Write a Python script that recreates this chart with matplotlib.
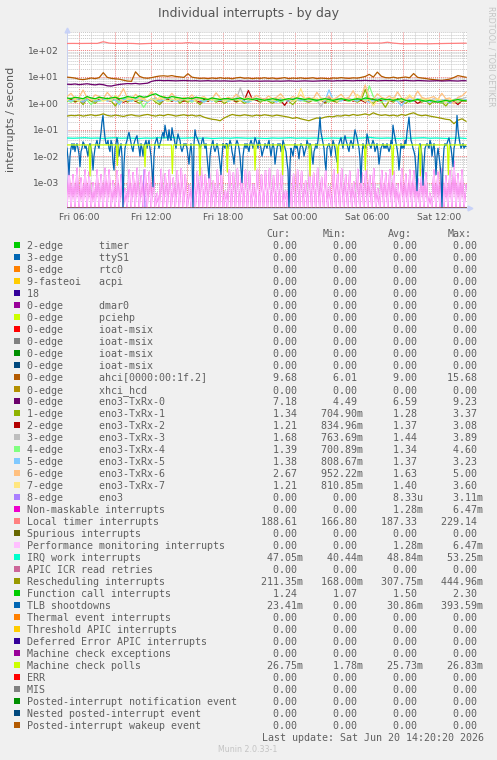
import numpy as np
import pandas as pd
import matplotlib
matplotlib.use('Agg')
import matplotlib.pyplot as plt
import matplotlib.dates as mdates
from matplotlib.patches import Rectangle
from matplotlib.ticker import FuncFormatter, LogLocator

W, H = 497, 760
plt.rcParams['font.family'] = 'DejaVu Sans'

# time range of the graph
start = pd.Timestamp('2026-06-19 05:00')
end = pd.Timestamp('2026-06-20 14:20')
data_end = pd.Timestamp('2026-06-20 14:15')

# legend rows (name, irq name)
labels = [
    ("2-edge", "timer"), ("3-edge", "ttyS1"), ("8-edge", "rtc0"), ("9-fasteoi", "acpi"),
    ("18", ""), ("0-edge", "dmar0"), ("0-edge", "pciehp"), ("0-edge", "ioat-msix"),
    ("0-edge", "ioat-msix"), ("0-edge", "ioat-msix"), ("0-edge", "ioat-msix"),
    ("0-edge", "ahci[0000:00:1f.2]"), ("0-edge", "xhci_hcd"), ("0-edge", "eno3-TxRx-0"),
    ("1-edge", "eno3-TxRx-1"), ("2-edge", "eno3-TxRx-2"), ("3-edge", "eno3-TxRx-3"),
    ("4-edge", "eno3-TxRx-4"), ("5-edge", "eno3-TxRx-5"), ("6-edge", "eno3-TxRx-6"),
    ("7-edge", "eno3-TxRx-7"), ("8-edge", "eno3"),
    ("Non-maskable interrupts", ""), ("Local timer interrupts", ""), ("Spurious interrupts", ""),
    ("Performance monitoring interrupts", ""), ("IRQ work interrupts", ""),
    ("APIC ICR read retries", ""), ("Rescheduling interrupts", ""),
    ("Function call interrupts", ""), ("TLB shootdowns", ""), ("Thermal event interrupts", ""),
    ("Threshold APIC interrupts", ""), ("Deferred Error APIC interrupts", ""),
    ("Machine check exceptions", ""), ("Machine check polls", ""), ("ERR", ""), ("MIS", ""),
    ("Posted-interrupt notification event", ""), ("Nested posted-interrupt event", ""),
    ("Posted-interrupt wakeup event", ""),
]
colors = [
    '#00CC00', '#0066B3', '#FF8000', '#FFCC00', '#330099', '#990099', '#CCFF00', '#FF0000',
    '#808080', '#008F00', '#00487D', '#B35A00', '#B38F00', '#6B006B', '#8FB300', '#B30000',
    '#BEBEBE', '#80FF80', '#80C9FF', '#FFC080', '#FFE680', '#AA80FF', '#EE00CC', '#FF8080',
    '#666600', '#FFBFFF', '#00FFCC', '#CC6699', '#999900', '#00CC00', '#0066B3', '#FF8000',
    '#FFCC00', '#330099', '#990099', '#CCFF00', '#FF0000', '#808080', '#008F00', '#00487D',
    '#B35A00',
]
z = "0.00"
cur = [z]*11 + ["9.68", z, "7.18", "1.34", "1.21", "1.68", "1.39", "1.38", "2.67", "1.21", z, z,
       "188.61", z, z, "47.05m", z, "211.35m", "1.24", "23.41m", z, z, z, z, "26.75m"] + [z]*5
mins = [z]*11 + ["6.01", z, "4.49", "704.90m", "834.96m", "763.69m", "700.89m", "808.67m",
        "952.22m", "810.85m", z, z, "166.80", z, z, "40.44m", z, "168.00m", "1.07", z,
        z, z, z, z, "1.78m"] + [z]*5
avgs = [z]*11 + ["9.00", z, "6.59", "1.28", "1.37", "1.44", "1.34", "1.37", "1.63", "1.40",
        "8.33u", "1.28m", "187.33", z, "1.28m", "48.84m", z, "307.75m", "1.50", "30.86m",
        z, z, z, z, "25.73m"] + [z]*5
maxs = [z]*11 + ["15.68", z, "9.23", "3.37", "3.08", "3.89", "4.60", "3.23", "5.00", "3.60",
        "3.11m", "6.47m", "229.14", z, "6.47m", "53.25m", z, "444.96m", "2.30", "393.59m",
        z, z, z, z, "26.83m"] + [z]*5

# series values (evenly spaced over the day)
loc_vals = [184, 185, 184, 185, 186, 185, 214, 190, 186, 185, 186, 184, 178, 182, 186,
            187, 188, 189, 190, 189, 198, 191, 190, 189, 190, 191, 190, 190, 189, 190, 189,
            190, 191, 190, 190, 189, 190, 189, 190, 188, 189, 190, 189, 190, 189, 190, 196,
            192, 195, 190, 189, 190, 191, 205, 190, 182, 178, 180, 181, 180, 179, 182, 183,
            185, 186, 188, 189]
ahci_vals = [9.8, 9.5, 9.0, 8.2, 7.9, 8.4, 9.1, 8.6, 9.4, 14.5,
             9.6, 8.8, 8.5, 8.2, 7.5, 7.0, 6.8, 15.6, 10.5, 9.2,
             8.9, 9.4, 10.2, 10.8, 11.0, 10.6, 11.2, 10.4, 10.0, 9.6,
             13.2, 9.8, 9.2, 8.8, 9.0, 8.6, 9.1, 8.7, 9.3, 8.8,
             9.0, 8.5, 9.2, 9.6, 8.9, 9.1, 8.6, 9.0, 8.8, 9.3,
             8.7, 9.1, 8.5, 8.9, 9.4, 8.6, 9.0, 8.8, 9.2, 8.7,
             8.9, 9.3, 8.6, 9.0, 8.8, 8.5, 9.1, 8.9, 9.4, 9.0,
             8.8, 9.2, 9.0, 9.6, 10.4, 12.5, 9.8, 15.2, 10.6, 9.4,
             9.2, 9.8, 9.0, 9.5, 9.9, 9.3, 13.4, 9.6, 9.1, 8.7,
             8.2, 7.9, 7.6, 7.4, 7.8, 8.3, 9.5, 11.2, 10.4, 9.7]
txrx0_vals = [5.3, 5.2, 5.4, 5.1, 5.3, 5.5, 5.2, 5.0, 5.3, 5.1,
              4.6, 4.5, 4.9, 5.2, 5.4, 5.6, 5.5, 5.7, 5.4, 5.6,
              5.8, 6.8, 7.3, 7.4, 7.2, 7.3, 7.2, 7.1, 7.2, 7.3,
              7.2, 7.1, 7.2, 7.0, 7.1, 7.2, 7.0, 7.1, 7.0, 7.1,
              7.0, 6.9, 7.0, 7.1, 6.9, 7.0, 6.9, 7.0, 6.9, 7.0,
              7.0, 6.9, 7.0, 6.9, 7.0, 7.1, 7.0, 6.9, 7.0, 7.1,
              7.0, 6.9, 7.0, 7.1, 7.2, 7.1, 7.0, 7.2, 7.1, 7.3,
              7.2, 7.1, 7.3, 7.2, 7.4, 7.2, 7.3, 7.1, 7.2, 7.3,
              7.2, 7.3, 7.1, 7.2, 7.4, 7.2, 7.1, 7.3, 7.2, 7.1,
              7.0, 7.1, 7.2, 7.0, 7.1, 7.2, 7.1, 7.0, 7.2, 7.18]
txrx1_vals = [1.2, 1.4, 1.1, 1.3, 0.9, 1.5, 1.2, 1.0, 1.4, 1.3,
              1.6, 1.2, 0.8, 1.3, 1.5, 1.1, 1.4, 1.2, 1.0, 1.3,
              1.2, 1.5, 1.1, 0.9, 1.3, 1.4, 1.2, 1.6, 1.0, 1.3,
              1.1, 1.4, 1.2, 0.9, 1.3, 1.2, 1.5, 1.1, 1.3, 1.0,
              1.2, 1.4, 1.1, 1.3, 1.0, 1.2, 1.5, 1.3, 1.1, 1.4,
              1.2, 1.0, 1.3, 1.1, 1.4, 1.2, 0.9, 1.3, 1.5, 1.2,
              1.1, 1.3, 1.2, 1.4, 1.0, 1.3, 1.2, 1.1, 1.4, 1.3,
              1.2, 1.4, 1.1, 1.3, 3.37, 1.2, 1.0, 1.4, 1.2, 0.71,
              1.3, 1.1, 1.5, 1.2, 1.0, 1.3, 1.2, 1.4, 1.1, 1.3,
              0.9, 1.2, 1.4, 1.1, 0.8, 1.2, 1.3, 1.1, 1.2, 1.34]
txrx2_vals = [1.3, 1.5, 1.2, 1.4, 1.1, 1.6, 1.3, 1.2, 1.5, 1.4,
              1.3, 1.2, 1.6, 1.4, 1.1, 1.3, 1.5, 1.2, 1.4, 1.3,
              1.2, 1.4, 1.6, 1.1, 1.3, 1.5, 1.2, 1.4, 1.3, 1.2,
              1.4, 1.6, 1.3, 1.1, 1.4, 1.2, 1.5, 1.3, 1.2, 1.4,
              1.5, 1.3, 1.2, 1.4, 1.3, 3.08, 1.4, 1.3, 1.2, 1.5,
              1.4, 1.2, 1.5, 1.3, 0.84, 1.4, 1.2, 1.5, 1.3, 1.4,
              1.2, 1.5, 1.3, 1.4, 1.1, 1.6, 1.3, 1.2, 1.4, 1.3,
              1.5, 1.2, 1.4, 1.3, 1.1, 1.4, 1.5, 1.2, 1.3, 1.4,
              1.2, 1.3, 1.5, 1.1, 1.4, 1.2, 1.3, 1.0, 1.2, 1.4,
              1.3, 1.1, 1.2, 1.0, 1.3, 1.1, 1.2, 0.9, 1.3, 1.21]
txrx3_vals = [1.4, 1.6, 1.3, 1.5, 1.2, 1.7, 1.4, 1.3, 1.6, 1.5,
              1.3, 1.8, 1.4, 1.2, 1.5, 1.6, 1.3, 1.4, 1.7, 1.5,
              1.2, 1.4, 1.6, 1.3, 1.5, 1.7, 1.4, 1.3, 1.6, 1.4,
              1.5, 1.3, 1.7, 1.4, 1.2, 1.5, 1.6, 1.3, 1.4, 1.5,
              1.3, 1.6, 1.4, 3.89, 1.5, 1.3, 1.4, 1.6, 1.3, 1.5,
              1.4, 1.2, 1.5, 1.6, 1.3, 1.4, 1.5, 1.3, 1.2, 1.5,
              1.4, 1.6, 1.3, 0.76, 1.4, 1.5, 1.3, 1.6, 1.4, 1.5,
              1.5, 1.4, 1.3, 1.6, 1.4, 1.5, 1.2, 1.6, 1.4, 1.3,
              1.5, 1.7, 1.4, 1.3, 1.6, 1.4, 1.5, 1.3, 1.6, 1.4,
              1.3, 1.5, 1.4, 1.2, 1.5, 1.3, 1.4, 1.6, 1.5, 1.68]
txrx4_vals = [1.3, 1.1, 1.4, 1.2, 1.5, 1.3, 0.9, 1.4, 1.2, 1.3,
              1.5, 1.2, 1.4, 1.1, 1.3, 1.6, 1.2, 1.4, 1.3, 0.70,
              1.2, 1.5, 1.3, 1.1, 1.4, 1.2, 1.3, 1.5, 1.2, 1.4,
              1.3, 1.1, 1.4, 1.6, 1.2, 1.3, 1.5, 1.2, 1.4, 1.3,
              1.2, 1.5, 1.3, 1.4, 1.2, 1.1, 1.3, 1.5, 1.2, 1.4,
              1.3, 1.2, 1.4, 1.1, 1.3, 1.5, 1.2, 1.4, 1.3, 1.2,
              1.4, 1.3, 1.2, 1.5, 1.3, 1.1, 1.4, 1.2, 1.3, 1.5,
              1.2, 1.4, 1.3, 1.5, 1.2, 4.6, 1.8, 1.3, 1.1, 1.4,
              1.2, 1.5, 1.3, 1.2, 1.4, 1.1, 1.3, 1.5, 1.2, 1.4,
              1.3, 1.1, 1.2, 1.0, 1.3, 1.2, 1.4, 1.1, 1.3, 1.39]
txrx5_vals = [1.4, 1.2, 1.5, 1.3, 1.1, 1.4, 1.6, 1.2, 1.3, 1.5,
              1.2, 1.4, 1.3, 0.9, 1.5, 1.3, 1.2, 1.6, 1.4, 1.3,
              1.1, 1.4, 1.5, 1.2, 1.3, 1.6, 1.4, 1.2, 1.3, 1.5,
              1.4, 1.2, 1.5, 1.3, 1.1, 1.4, 1.2, 1.5, 1.3, 1.4,
              1.2, 1.3, 1.5, 1.4, 1.2, 1.1, 1.3, 1.4, 1.6, 1.2,
              1.4, 1.3, 1.1, 1.5, 1.3, 1.2, 1.4, 1.5, 1.3, 1.4,
              1.2, 1.5, 1.3, 1.4, 1.2, 3.23, 1.4, 1.3, 1.2, 1.5,
              1.3, 1.4, 1.2, 1.5, 1.3, 1.1, 1.4, 1.3, 1.5, 1.2,
              1.4, 1.3, 1.2, 0.81, 1.3, 1.4, 1.2, 1.5, 1.3, 1.2,
              1.1, 1.3, 1.2, 1.4, 1.2, 1.0, 1.3, 1.2, 1.4, 1.38]
txrx6_vals = [1.8, 2.4, 1.5, 1.7, 3.2, 1.6, 1.4, 2.1, 1.8, 1.5,
              2.6, 1.7, 1.5, 1.9, 3.6, 1.6, 1.4, 2.2, 1.7, 1.5,
              1.8, 2.8, 1.6, 1.4, 1.9, 1.5, 2.4, 1.6, 1.3, 1.7,
              1.5, 2.1, 1.4, 1.6, 1.8, 1.3, 1.5, 2.5, 1.6, 1.4,
              1.7, 1.5, 2.2, 1.6, 1.4, 1.8, 1.5, 2.0, 1.6, 1.4,
              1.9, 1.5, 1.7, 2.3, 1.5, 1.4, 1.8, 1.6, 2.1, 1.5,
              1.7, 1.4, 2.6, 1.6, 1.5, 1.9, 1.4, 1.7, 2.2, 1.5,
              1.7, 3.0, 1.5, 1.8, 5.0, 1.6, 1.4, 2.3, 1.7, 1.5,
              1.9, 1.4, 2.7, 1.6, 1.3, 1.8, 1.5, 2.9, 1.7, 1.5,
              1.6, 1.8, 1.4, 2.4, 1.5, 1.6, 0.95, 1.7, 1.9, 2.67]
txrx7_vals = [1.3, 1.6, 1.4, 1.2, 1.5, 1.8, 1.3, 1.4, 1.6, 1.2,
              1.4, 1.3, 2.0, 1.5, 1.2, 1.4, 1.6, 1.3, 1.5, 1.4,
              1.2, 1.5, 1.3, 1.7, 1.4, 1.2, 1.5, 1.3, 1.6, 1.4,
              1.3, 1.5, 1.2, 1.4, 1.6, 1.5, 1.3, 1.4, 1.6, 1.2,
              1.4, 1.3, 1.5, 1.2, 1.6, 1.4, 1.3, 1.5, 1.4, 1.2,
              1.5, 1.3, 1.4, 1.7, 1.3, 1.5, 1.2, 1.4, 3.6, 1.5,
              1.3, 1.4, 1.6, 1.2, 1.4, 1.3, 1.5, 1.2, 1.6, 1.4,
              1.4, 1.3, 2.2, 1.5, 1.2, 1.4, 0.81, 1.3, 1.5, 1.4,
              1.2, 1.6, 1.4, 1.3, 1.5, 2.1, 1.4, 1.3, 1.5, 1.3,
              1.4, 1.2, 1.5, 1.3, 1.1, 1.4, 1.3, 1.2, 1.4, 1.21]
eno3_hours = [0.0, 6.33, 6.42, 6.5, 33.25]
eno3_vals = [0, 0, 0.00311, 0, 0]
pmi_vals = [
    0, 0.003, 0, 0.002, 0, 0.0035, 0, 0.0015, 0, 0.003, 0, 0.0025, 0, 0.001, 0, 0.003, 0, 0.002, 0, 0.0035,
    0, 0.003, 0, 0.0012, 0, 0.0028, 0, 0.002, 0, 0.0006, 0, 0.003, 0, 0.0024, 0, 0.0035, 0, 0.0018, 0, 0.003,
    0, 0.0025, 0, 0.003, 0, 0.0004, 0, 0.0032, 0, 0.0022, 0, 0.003, 0, 0.0015, 0, 0.0028, 0, 0.0034, 0, 0.002,
    0, 0.0008, 0, 0.003, 0, 0.0026, 0, 0.0035, 0, 0.002, 0, 0.0029, 0, 0.0012, 0, 0.003, 0, 0.0022, 0, 0.0005,
    0, 0.0031, 0, 0.0024, 0, 0.0033, 0, 0.0016, 0, 0.003, 0, 0.0026, 0, 0.0009, 0, 0.0032, 0, 0.002, 0, 0.0028,
    0, 0.0034, 0, 0.0018, 0, 0.003, 0, 0.0025, 0, 0.0005, 0, 0.0033, 0, 0.0021, 0, 0.003, 0, 0.0027, 0, 0.0012,
    0, 0.003, 0, 0.0023, 0, 0.0035, 0, 0.0016, 0, 0.0029, 0, 0.0007, 0, 0.0031, 0, 0.0025, 0, 0.0033, 0, 0.002,
    0, 0.0027, 0, 0.0011, 0, 0.0032, 0, 0.0024, 0, 0.003, 0, 0.0019, 0, 0.0034, 0, 0.0006, 0, 0.0029, 0, 0.0023,
    0, 0.0031, 0, 0.0026, 0, 0.0009, 0, 0.0033, 0, 0.0021, 0, 0.003, 0, 0.0028, 0, 0.0014, 0, 0.0032, 0, 0.0024,
    0, 0.0004, 0, 0.003, 0, 0.0025, 0, 0.0033, 0, 0.0018, 0, 0.0029, 0, 0.00647, 0, 0.0022, 0, 0.003, 0, 0.0008,
]
nmi_vals = list(pmi_vals)
irqwork_vals = [0.049, 0.048, 0.049, 0.050, 0.048, 0.049, 0.047, 0.049, 0.050, 0.048,
                0.049, 0.048, 0.047, 0.049, 0.048, 0.050, 0.049, 0.053, 0.049, 0.048,
                0.049, 0.050, 0.048, 0.049, 0.047, 0.048, 0.049, 0.048, 0.050, 0.049,
                0.048, 0.049, 0.048, 0.047, 0.049, 0.048, 0.049, 0.050, 0.048, 0.049,
                0.048, 0.049, 0.047, 0.048, 0.049, 0.048, 0.050, 0.049, 0.048, 0.049,
                0.052, 0.049, 0.048, 0.049, 0.048, 0.047, 0.049, 0.048, 0.049, 0.050,
                0.048, 0.049, 0.048, 0.047, 0.048, 0.049, 0.047]
resched_vals = [0.33, 0.35, 0.34, 0.36, 0.33, 0.35, 0.37, 0.34, 0.36, 0.40,
                0.35, 0.33, 0.36, 0.34, 0.32, 0.35, 0.37, 0.34, 0.33, 0.36,
                0.38, 0.35, 0.33, 0.36, 0.34, 0.38, 0.36, 0.33, 0.35, 0.37,
                0.34, 0.36, 0.33, 0.35, 0.30, 0.27, 0.25, 0.24, 0.22, 0.28,
                0.33, 0.38, 0.35, 0.34, 0.37, 0.35, 0.33, 0.36, 0.34, 0.37,
                0.35, 0.33, 0.36, 0.34, 0.32, 0.30, 0.27, 0.29, 0.26, 0.24,
                0.22, 0.25, 0.28, 0.27, 0.30, 0.32, 0.31, 0.34, 0.33, 0.36,
                0.34, 0.38, 0.35, 0.37, 0.40, 0.36, 0.44, 0.38, 0.35, 0.37,
                0.34, 0.36, 0.33, 0.38, 0.35, 0.40, 0.44, 0.37, 0.34, 0.36,
                0.33, 0.31, 0.29, 0.27, 0.25, 0.24, 0.17, 0.23, 0.26, 0.21]
funccall_vals = [1.6, 1.5, 1.7, 1.6, 1.5, 1.8, 1.6, 1.5, 1.7, 1.6,
                 1.5, 1.6, 1.7, 1.5, 1.6, 1.8, 1.7, 1.6, 1.9, 1.7,
                 1.8, 2.1, 2.3, 1.9, 1.7, 1.6, 1.8, 1.7, 1.6, 1.5,
                 1.6, 1.5, 1.7, 1.6, 1.5, 1.4, 1.6, 1.5, 1.4, 1.5,
                 1.5, 1.4, 1.5, 1.6, 1.4, 1.5, 1.4, 1.5, 1.4, 1.3,
                 1.4, 1.5, 1.4, 1.3, 1.4, 1.5, 1.4, 1.6, 1.5, 1.4,
                 1.5, 1.4, 1.3, 1.4, 1.5, 1.4, 1.3, 1.4, 1.5, 1.4,
                 1.3, 1.4, 1.5, 1.4, 1.6, 1.5, 1.4, 1.3, 1.5, 1.4,
                 1.4, 1.3, 1.4, 1.5, 1.3, 1.2, 1.3, 1.4, 1.3, 1.2,
                 1.3, 1.2, 1.1, 1.2, 1.3, 1.2, 1.3, 1.4, 1.3, 1.24]
tlb_vals = [
    0.02, 0.008, 0.002, 0.01, 0.02, 0.03, 0.018, 0.03, 0.015, 0.025, 0.03, 0.02, 0.012, 0.004, 0.015, 0.02, 0.035, 0.03, 0.02, 0.025,
    0.015, 0.01, 0.025, 0.03, 0.02, 0.012, 0.003, 0.01, 0.02, 0.03, 0.04, 0.025, 0.02, 0.04, 0.08, 0.2, 0.35, 0.12, 0.05, 0.03,
    0.03, 0.04, 0.02, 0.015, 0.04, 0.03, 0.006, 0.003, 0.02, 0.03, 0.05, 0.03, 0.01, 0.02, 0.03, 0.01, 0, 0.005, 0.02, 0.03,
    0.04, 0.06, 0.08, 0.05, 0.03, 0.02, 0.015, 0.03, 0.04, 0.05, 0.06, 0.03, 0.02, 0.01, 0.03, 0.02, 0.01, 0.025, 0.03, 0.04,
    0.02, 0.03, 0.04, 0.02, 0.01, 0.003, 0.0007, 0.01, 0.03, 0.04, 0.05, 0.03, 0.02, 0.03, 0.04, 0.06, 0.08, 0.05, 0.15, 0.09,
    0.06, 0.04, 0.1, 0.05, 0.04, 0.12, 0.07, 0.05, 0.03, 0.02, 0.04, 0.07, 0.05, 0.04, 0.02, 0.015, 0.02, 0.03, 0.025, 0.03,
    0.02, 0.01, 0.005, 0.015, 0.03, 0.01, 0, 0.03, 0.1, 0.06, 0.05, 0.04, 0.03, 0.02, 0.025, 0.04, 0.05, 0.03, 0.02, 0.03,
    0.01, 0.004, 0.0015, 0.01, 0.02, 0.03, 0.04, 0.02, 0.015, 0.02, 0.03, 0.02, 0.01, 0.005, 0.002, 0.01, 0.03, 0.025, 0.02, 0.03,
    0.03, 0.02, 0.025, 0.04, 0.03, 0.015, 0.01, 0.005, 0.015, 0.03, 0.04, 0.03, 0.02, 0.01, 0.003, 0.001, 0.01, 0.02, 0.03, 0.02,
    0.03, 0.02, 0.015, 0.03, 0.04, 0.03, 0.02, 0.03, 0.05, 0.04, 0.03, 0.02, 0.04, 0.03, 0.02, 0.01, 0.015, 0.02, 0.03, 0.025,
    0.02, 0.03, 0.04, 0.02, 0.01, 0.02, 0.03, 0.02, 0.005, 0.01, 0.02, 0.03, 0.025, 0.03, 0.015, 0.02, 0.04, 0.03, 0.02, 0.015,
    0.006, 0.003, 0, 0.005, 0.02, 0.015, 0.01, 0.02, 0.03, 0.02, 0.025, 0.015, 0.008, 0.02, 0.03, 0.025, 0.02, 0.01, 0.015, 0.02,
    0.04, 0.03, 0.02, 0.03, 0.025, 0.01, 0.005, 0.015, 0.02, 0.03, 0.02, 0.04, 0.1, 0.3, 0.08, 0.05, 0.03, 0.02, 0.006, 0.003,
    0.02, 0.025, 0.03, 0.02, 0.01, 0.02, 0.04, 0.03, 0.02, 0.01, 0.006, 0.02, 0.03, 0.04, 0.05, 0.03, 0.02, 0.04, 0.06, 0.04,
    0.03, 0.02, 0.015, 0.03, 0.04, 0.03, 0.02, 0.05, 0.1, 0.07, 0.05, 0.03, 0.02, 0.008, 0.001, 0.01, 0.03, 0.02, 0.025, 0.02,
    0.07, 0.05, 0.03, 0.025, 0.02, 0.03, 0.04, 0.03, 0.015, 0.02, 0.03, 0.015, 0.005, 0.01, 0.02, 0.025, 0.03, 0.02, 0.025, 0.02,
    0.03, 0.02, 0.015, 0.02, 0.04, 0.03, 0.15, 0.08, 0.05, 0.03, 0.02, 0.01, 0.003, 0.01, 0.03, 0.02, 0.025, 0.02, 0.04, 0.03,
    0.08, 0.15, 0.3, 0.1, 0.04, 0.03, 0.02, 0.015, 0.01, 0.003, 0.0005, 0.005, 0.02, 0.03, 0.02, 0.01, 0.0008, 0.005, 0.02, 0.025,
    0.03, 0.025, 0.02, 0.04, 0.03, 0.01, 0.02, 0.03, 0.01, 0.002, 0.01, 0.02, 0.01, 0.005, 0.002, 0, 0.005, 0.02, 0.03, 0.025,
    0.03, 0.04, 0.05, 0.03, 0.02, 0.01, 0.004, 0.02, 0.03, 0.06, 0.35, 0.1, 0.05, 0.03, 0.02, 0.025, 0.03, 0.02, 0.025, 0.023,
]
mcp_hours = [0.0, 1.84, 1.92, 2.0, 4.11, 4.19, 4.27, 6.42, 6.5, 6.58, 8.7, 8.78, 8.86,
             11.0, 11.08, 11.16, 13.28, 13.36, 13.44, 15.59, 15.67, 15.75, 17.89, 17.97, 18.05,
             20.17, 20.25, 20.33, 22.48, 22.56, 22.64, 24.78, 24.86, 24.94, 27.06, 27.14, 27.22,
             29.36, 29.44, 29.52, 31.7, 31.78, 31.86, 33.25]
mcp_vals = [0.0267, 0.0267, 0.00178, 0.0267, 0.0267, 0.0045, 0.0267, 0.0267, 0.004, 0.0267,
            0.0267, 0.0022, 0.0267, 0.0267, 0.0019, 0.0267, 0.0267, 0.0025, 0.0267,
            0.0267, 0.003, 0.0267, 0.0267, 0.002, 0.0267, 0.0267, 0.00178, 0.0267,
            0.0267, 0.0023, 0.0267, 0.0267, 0.003, 0.0267, 0.0267, 0.002, 0.0267,
            0.0267, 0.0018, 0.0267, 0.0267, 0.002, 0.0267, 0.0267]


def even_times(n):
    return pd.date_range(start, data_end, periods=n)


def hour_times(hours):
    return start + pd.to_timedelta(hours, unit='h')


series = {
    11: (even_times(len(ahci_vals)), ahci_vals),
    13: (even_times(len(txrx0_vals)), txrx0_vals),
    14: (even_times(len(txrx1_vals)), txrx1_vals),
    15: (even_times(len(txrx2_vals)), txrx2_vals),
    16: (even_times(len(txrx3_vals)), txrx3_vals),
    17: (even_times(len(txrx4_vals)), txrx4_vals),
    18: (even_times(len(txrx5_vals)), txrx5_vals),
    19: (even_times(len(txrx6_vals)), txrx6_vals),
    20: (even_times(len(txrx7_vals)), txrx7_vals),
    21: (hour_times(eno3_hours), eno3_vals),
    22: (even_times(len(nmi_vals)), nmi_vals),
    23: (even_times(len(loc_vals)), loc_vals),
    25: (even_times(len(pmi_vals)), pmi_vals),
    26: (even_times(len(irqwork_vals)), irqwork_vals),
    28: (even_times(len(resched_vals)), resched_vals),
    29: (even_times(len(funccall_vals)), funccall_vals),
    30: (even_times(len(tlb_vals)), tlb_vals),
    35: (hour_times(mcp_hours), mcp_vals),
}

ymin, ymax = 1.1e-4, 500

fig = plt.figure(figsize=(W / 100, H / 100), dpi=100, facecolor='#F0F0F0')
ax = fig.add_axes([67 / W, 1 - 208 / H, 400 / W, 176 / H])
ax.set_facecolor('white')

for i, c in enumerate(colors):
    if i in series:
        t, v = series[i]
    else:
        t, v = [start, data_end], [0, 0]
    v = np.asarray(v, dtype=float)
    v = np.where(v > 0, v, ymin)   # rrdtool puts zero on the bottom edge
    ax.plot(t, v, color=c, lw=0.9, zorder=3)

ax.set_yscale('log')
ax.set_ylim(ymin, ymax)
ax.set_xlim(start, end)

# axes formatting, rrdtool look
ax.yaxis.set_major_locator(LogLocator(base=10))
ax.yaxis.set_minor_locator(LogLocator(base=10, subs=np.arange(2, 10)))
ax.yaxis.set_major_formatter(FuncFormatter(lambda v, p: f"{v:.0e}"))
ax.xaxis.set_major_locator(mdates.HourLocator(byhour=range(0, 24, 3)))
ax.xaxis.set_minor_locator(mdates.HourLocator())


def xfmt(x, pos):
    d = mdates.num2date(x)
    return d.strftime('%a %H:%M') if d.hour % 6 == 0 else ''


ax.xaxis.set_major_formatter(FuncFormatter(xfmt))
ax.grid(which='minor', color='#C8C8C8', lw=0.7, ls=(0, (1, 1)), zorder=1)
ax.grid(which='major', color='#EE8080', lw=0.7, ls=(0, (1, 1)), zorder=2)
ax.tick_params(which='both', length=0, labelsize=6.6, labelcolor='#555555')
ax.tick_params(axis='y', pad=5.8)
ax.tick_params(axis='x', pad=3.5)
for s in ['top', 'right']:
    ax.spines[s].set_visible(False)
for s in ['left', 'bottom']:
    ax.spines[s].set_color('#C8D0F0')
    ax.spines[s].set_linewidth(0.7)
ax.plot([0], [1.014], marker='^', ms=3.5, color='#C8D2F8', transform=ax.transAxes, clip_on=False)
ax.plot([1.008], [0], marker='>', ms=3.5, color='#C8D2F8', transform=ax.transAxes, clip_on=False)

fig.text(0.5, 1 - 14 / H, 'Individual interrupts - by day', ha='center', va='center',
         fontsize=9, color='#555555')
fig.text(11 / W, 1 - 119 / H, 'interrupts / second', rotation=90, ha='center', va='center',
         fontsize=8, color='#555555')
fig.text(490.8 / W, 1 - 56 / H, 'RRDTOOL / TOBI OETIKER', rotation=270, ha='center',
         va='center', fontsize=5.7, color='#C4C4C4')

# legend table
mono = dict(family='DejaVu Sans Mono', fontsize=7.18, color='#606060', va='baseline')
for hx, htxt in zip([266.7, 322.3, 387.7, 447.3], ['Cur:', 'Min:', 'Avg:', 'Max:']):
    fig.text(hx / W, 1 - 236.9 / H, htxt, ha='left', **mono)


def field(s):
    if s[-1] in 'mu':
        return s[:-1].rjust(9) + s[-1]
    return s.rjust(9) + ' '


for i, ((a, b), c) in enumerate(zip(labels, colors)):
    yb = 248.9 + 12 * i
    fig.patches.append(Rectangle((14 / W, 1 - (yb - 0.6) / H), 6 / W, 6 / H,
                                 transform=fig.transFigure, color=c, lw=0))
    name = a.ljust(12) + b if b else a
    row = name.ljust(36) + ''.join(field(s) for s in (cur[i], mins[i], avgs[i], maxs[i]))
    fig.text(26.7 / W, 1 - yb / H, row, ha='left', **mono)

fig.text(261.7 / W, 1 - 740.6 / H, 'Last update: Sat Jun 20 14:20:20 2026', ha='left', **mono)
fig.text(248 / W, 1 - 749 / H, 'Munin 2.0.33-1', ha='center', va='center', fontsize=5.7,
         color='#C4C4C4')

fig.savefig('out.png', dpi=100, facecolor=fig.get_facecolor())
